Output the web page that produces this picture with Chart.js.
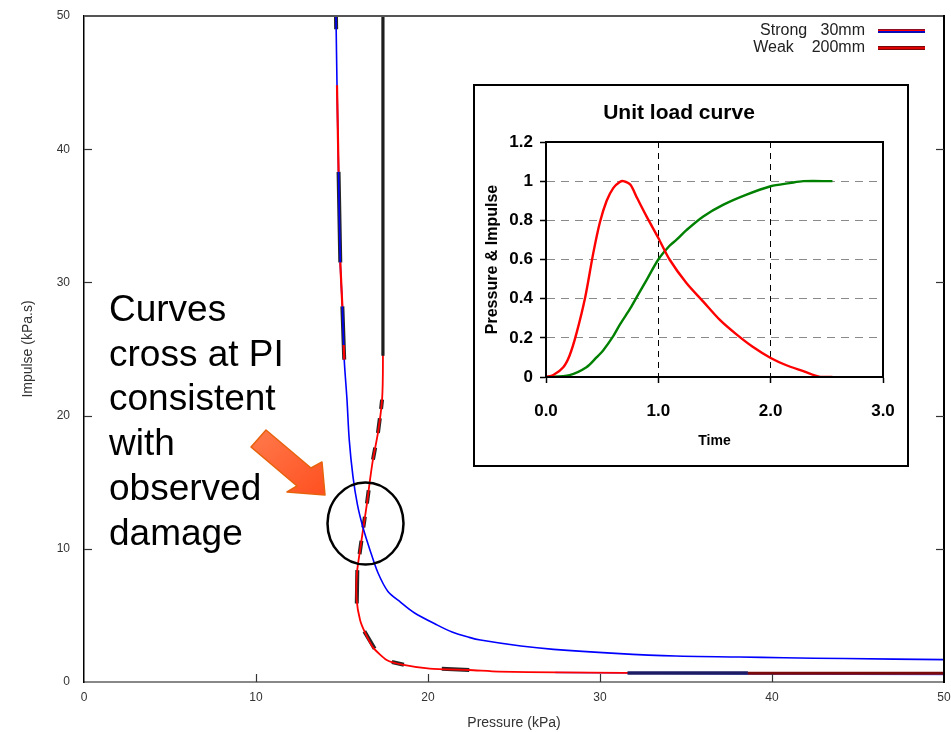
<!DOCTYPE html>
<html>
<head>
<meta charset="utf-8">
<script src="https://cdn.jsdelivr.net/npm/chart.js@4"></script>
<style>
html,body{margin:0;padding:0;background:#fff;}
#wrap{position:relative;width:951px;height:732px;overflow:hidden;background:#fff;}
#main{position:absolute;left:0;top:0;}
#marks{position:absolute;left:0;top:0;}
#insetBox{position:absolute;left:473px;top:84px;width:432px;height:379px;border:2px solid #000;background:#fff;}
#inset{position:absolute;left:0;top:0;}
#note{position:absolute;left:109px;top:287px;font-family:'Liberation Sans',Arial,sans-serif;font-size:37px;line-height:44.7px;color:#000;white-space:nowrap;}
</style>
</head>
<body>
<div id="wrap">
  <canvas id="main" width="951" height="732"></canvas>
  <svg id="marks" width="951" height="732">
    <defs>
      <linearGradient id="og" x1="0" y1="0" x2="1" y2="1">
        <stop offset="0" stop-color="#ff7a4c"/>
        <stop offset="1" stop-color="#ff5020"/>
      </linearGradient>
    </defs>
    <polygon points="266,430 311,468 322,462 325,495 287,492 297,486 251,447" fill="url(#og)" stroke="#e8620e" stroke-width="1.5" stroke-linejoin="round"/>
    <ellipse cx="365.5" cy="523.5" rx="38" ry="41" fill="none" stroke="#000" stroke-width="2.5"/>
  </svg>
  <div id="note">Curves<br>cross at PI<br>consistent<br>with<br>observed<br>damage</div>
  <div id="insetBox"><canvas id="inset" width="432" height="379"></canvas></div>
</div>
<script>
const FONT = "'Liberation Sans', Arial, Helvetica, sans-serif";

// ---- Main P-I diagram data ----
const seriesLabels = ['Strong   30mm', 'Weak    200mm'];

// Strong 30mm (blue)
const strongP = [14.65, 14.71, 14.8, 14.9, 15.02, 15.13, 15.29, 15.42, 15.64, 15.9, 16.22, 16.63, 17.09, 17.67, 18.4, 19.2, 20.5, 21.4, 22.4, 23.05, 25.4, 27.3, 30.9, 34.4, 38.1, 40.7, 44.2, 50];
const strongI = [50, 44.8, 38.3, 31.5, 28.2, 24.2, 21.2, 18.2, 15.4, 13.3, 11.6, 9.9, 8.2, 6.8, 6.0, 5.2, 4.3, 3.75, 3.35, 3.15, 2.7, 2.45, 2.15, 1.95, 1.88, 1.82, 1.76, 1.68];

// Weak 200mm (red)
const weakP = [17.38, 17.38, 17.33, 17.09, 16.8, 16.63, 16.45, 16.22, 16.05, 15.87, 15.85, 16.05, 16.34, 16.8, 17.6, 18.5, 20.1, 22.4, 24.1, 27.5, 31.4, 38.4, 50];
const weakI = [50, 24, 21.2, 18.7, 16.7, 15.2, 13.4, 11.4, 9.9, 8.2, 6.2, 4.65, 3.7, 2.6, 1.65, 1.3, 1.0, 0.9, 0.78, 0.72, 0.68, 0.67, 0.66];

// overlapping trace pieces seen in the picture (null = break)
const darkTopP = [17.38, 17.38];
const darkTopI = [50, 24.5];
const redLeftP = [14.71, 14.8, null, 14.9, 15.02, null, 15.1, 15.13];
const redLeftI = [44.8, 38.3, null, 31.5, 28.2, null, 25.3, 24.2];
const darkUnderP = [14.65, 14.66, null, 14.8, 14.9, null, 15.02, 15.13, null, 17.33, 17.27, null, 17.2, 17.09, null, 16.93, 16.8, null, 16.55, 16.45, null, 16.33, 16.24, null, 16.13, 16.02, null, 15.89, 15.86, null, 16.3, 16.9, null, 17.9, 18.6, null, 20.8, 22.4];
const darkUnderI = [50, 49, null, 38.3, 31.5, null, 28.2, 24.2, null, 21.2, 20.5, null, 19.8, 18.7, null, 17.6, 16.7, null, 14.4, 13.4, null, 12.4, 11.6, null, 10.6, 9.6, null, 8.4, 5.9, null, 3.8, 2.5, null, 1.5, 1.3, null, 1.0, 0.9];
const navyP = [31.6, 38.6];
const navyI = [0.67, 0.67];
const maroonP = [38.6, 50];
const maroonI = [0.66, 0.66];
const blueLowP = [27.4, 31.6, 38.6, 50];
const blueLowI = [0.72, 0.68, 0.6, 0.57];

// ---- Inset "Unit load curve" data ----
const pressureT = [0, 0.065, 0.154, 0.21, 0.27, 0.35, 0.42, 0.48, 0.54, 0.6, 0.66, 0.69, 0.75, 0.81, 0.895, 1.0, 1.1, 1.25, 1.4, 1.55, 1.69, 1.84, 2.0, 2.14, 2.29, 2.44, 2.55];
const pressureV = [0, 0.01, 0.05, 0.11, 0.22, 0.41, 0.63, 0.79, 0.9, 0.966, 0.997, 1.0, 0.983, 0.915, 0.82, 0.71, 0.6, 0.48, 0.385, 0.29, 0.22, 0.154, 0.097, 0.06, 0.03, 0.0, 0.0];
const impulseT = [0, 0.21, 0.36, 0.45, 0.51, 0.6, 0.66, 0.75, 0.81, 0.9, 1.0, 1.1, 1.16, 1.25, 1.4, 1.58, 1.78, 2.0, 2.17, 2.29, 2.55];
const impulseV = [0, 0.01, 0.05, 0.1, 0.137, 0.21, 0.27, 0.35, 0.41, 0.5, 0.6, 0.67, 0.7, 0.75, 0.82, 0.88, 0.93, 0.974, 0.99, 1.0, 1.0];

const xy = (xs, ys) => xs.map((x, i) => ({x: x, y: ys[i]}));
const line = (label, xs, ys, color, width, tension) => ({
  label: label, data: xy(xs, ys), showLine: true, borderColor: color, backgroundColor: color,
  borderWidth: width, pointRadius: 0, tension: tension || 0, fill: false, spanGaps: false
});
const zeroPad = s => { s.paddingLeft = 0; s.paddingRight = 0; s.paddingTop = 0; s.paddingBottom = 0; };

const mainFrame = {
  id: 'mainFrame',
  afterDraw(chart) {
    const {ctx, chartArea: {left, right, top, bottom}, scales: {x, y}} = chart;
    ctx.save();
    ctx.lineWidth = 2;
    ctx.strokeStyle = '#555';
    ctx.beginPath(); ctx.moveTo(left, top); ctx.lineTo(right, top); ctx.stroke();
    ctx.strokeStyle = '#000';
    ctx.beginPath(); ctx.moveTo(right, top - 1); ctx.lineTo(right, bottom + 1); ctx.stroke();
    ctx.lineWidth = 1.2;
    ctx.strokeStyle = '#333';
    x.ticks.forEach(t => {
      if (t.value <= x.min || t.value >= x.max) return;
      const px = Math.round(x.getPixelForValue(t.value)) + 0.5;
      ctx.beginPath(); ctx.moveTo(px, bottom); ctx.lineTo(px, bottom - 8); ctx.stroke();
    });
    y.ticks.forEach(t => {
      if (t.value <= y.min || t.value >= y.max) return;
      const py = Math.round(y.getPixelForValue(t.value)) + 0.5;
      ctx.beginPath(); ctx.moveTo(left, py); ctx.lineTo(left + 8, py); ctx.stroke();
      ctx.beginPath(); ctx.moveTo(right, py); ctx.lineTo(right - 8, py); ctx.stroke();
    });
    // key (legend) in the top-right corner of the plot
    ctx.font = '16px ' + FONT;
    ctx.fillStyle = '#222';
    ctx.textAlign = 'right';
    ctx.textBaseline = 'middle';
    const rows = [top + 15, top + 32];
    const x1 = right - 66, x2 = right - 19, tx = right - 79;
    ctx.fillText(seriesLabels[0], tx, rows[0]);
    ctx.fillText(seriesLabels[1], tx, rows[1]);
    ctx.lineCap = 'butt';
    ctx.strokeStyle = '#1c1c50'; ctx.lineWidth = 4;
    ctx.beginPath(); ctx.moveTo(x1, rows[0]); ctx.lineTo(x2, rows[0]); ctx.stroke();
    ctx.strokeStyle = '#ff0000'; ctx.lineWidth = 1.5;
    ctx.beginPath(); ctx.moveTo(x1, rows[0] - 0.8); ctx.lineTo(x2, rows[0] - 0.8); ctx.stroke();
    ctx.strokeStyle = '#0000ff'; ctx.lineWidth = 1.2;
    ctx.beginPath(); ctx.moveTo(x1, rows[0] + 0.8); ctx.lineTo(x2, rows[0] + 0.8); ctx.stroke();
    ctx.strokeStyle = '#7a0a0a'; ctx.lineWidth = 4;
    ctx.beginPath(); ctx.moveTo(x1, rows[1]); ctx.lineTo(x2, rows[1]); ctx.stroke();
    ctx.strokeStyle = '#ff0000'; ctx.lineWidth = 1.6;
    ctx.beginPath(); ctx.moveTo(x1, rows[1]); ctx.lineTo(x2, rows[1]); ctx.stroke();
    ctx.restore();
  }
};

new Chart(document.getElementById('main'), {
  type: 'scatter',
  data: {
    datasets: [
      line('darkTop', darkTopP, darkTopI, '#1e1e1e', 3.2),
      line('redLeft', redLeftP, redLeftI, '#ff0000', 2.2),
      line('maroon', maroonP, maroonI, '#7a0a0a', 3),
      line('navy', navyP, navyI, '#1c1c64', 3.5),
      line(seriesLabels[0], strongP, strongI, '#0000ff', 1.6, 0.3),
      line(seriesLabels[1], weakP, weakI, '#ff0000', 1.8, 0.2),
      line('darkUnder', darkUnderP, darkUnderI, '#262626', 4),
      line('blueLow', blueLowP, blueLowI, '#5a5aff', 1.5)
    ]
  },
  options: {
    responsive: false,
    animation: false,
    layout: {padding: {left: 0, right: 7, top: 16, bottom: 0}},
    plugins: {legend: {display: false}, tooltip: {enabled: false}, title: {display: false}},
    scales: {
      x: {
        type: 'linear', min: 0, max: 50,
        ticks: {stepSize: 10, padding: 8, color: '#333', font: {size: 12, family: FONT}},
        grid: {display: false, drawTicks: false},
        border: {display: true, color: '#888', width: 2},
        title: {display: true, text: 'Pressure (kPa)', color: '#333', font: {size: 14, family: FONT}, padding: {top: 0, bottom: 0}},
        afterFit: s => { s.height = 50; zeroPad(s); }
      },
      y: {
        type: 'linear', min: 0, max: 50,
        ticks: {stepSize: 10, padding: 14, color: '#333', font: {size: 12, family: FONT}},
        grid: {display: false, drawTicks: false},
        border: {display: true, color: '#000', width: 1.5},
        title: {display: true, text: 'Impulse (kPa.s)', color: '#333', font: {size: 14, family: FONT}, padding: {top: 20, bottom: 0}},
        afterFit: s => { s.width = 84; zeroPad(s); }
      }
    }
  },
  plugins: [mainFrame]
});

const insetFrame = {
  id: 'insetFrame',
  afterDraw(chart) {
    const {ctx, chartArea: {left, right, top, bottom}} = chart;
    ctx.save();
    ctx.strokeStyle = '#000';
    ctx.lineWidth = 2;
    ctx.strokeRect(left, top, right - left, bottom - top);
    ctx.restore();
  }
};

new Chart(document.getElementById('inset'), {
  type: 'scatter',
  data: {
    datasets: [
      line('Pressure', pressureT, pressureV, '#ff0000', 2.4, 0.3),
      line('Impulse', impulseT, impulseV, '#008000', 2.4, 0.3)
    ]
  },
  options: {
    responsive: false,
    animation: false,
    layout: {padding: {left: 0, right: 24, top: 0, bottom: 0}},
    plugins: {
      legend: {display: false}, tooltip: {enabled: false},
      title: {display: true, text: 'Unit load curve', color: '#000', font: {size: 21, weight: 'bold', family: FONT}, padding: {top: 14.4, bottom: 16.4}}
    },
    scales: {
      x: {
        type: 'linear', min: 0, max: 3,
        ticks: {stepSize: 1, padding: 18, color: '#000', font: {size: 17, weight: 'bold', family: FONT}, callback: v => Number(v).toFixed(1)},
        grid: {
          color: c => (c.tick && (c.tick.value === 1 || c.tick.value === 2)) ? '#000' : 'rgba(0,0,0,0)',
          lineWidth: 1, drawTicks: true, tickLength: 6, tickColor: '#000', tickWidth: 1.5, tickBorderDash: [], borderDash: [6, 5]
        },
        border: {display: true, color: '#000', width: 2, dash: [6, 5]},
        title: {display: true, text: 'Time', color: '#000', font: {size: 14, weight: 'bold', family: FONT}, padding: {top: 0, bottom: 15}},
        afterFit: s => { s.height = 88; zeroPad(s); }
      },
      y: {
        type: 'linear', min: 0, max: 1.2,
        ticks: {stepSize: 0.2, padding: 7, color: '#000', font: {size: 17, weight: 'bold', family: FONT}, callback: v => String(Number(Number(v).toFixed(1)))},
        grid: {
          color: c => (c.tick && c.tick.value > 0.05 && c.tick.value < 1.15) ? '#8a8a8a' : 'rgba(0,0,0,0)',
          lineWidth: 1, drawTicks: true, tickLength: 6, tickColor: '#000', tickWidth: 1.5, tickBorderDash: [], borderDash: [8, 6]
        },
        border: {display: true, color: '#000', width: 2, dash: [8, 6]},
        title: {display: true, text: 'Pressure & Impulse', color: '#000', font: {size: 16, weight: 'bold', family: FONT}, padding: {top: 8.4, bottom: 0}},
        afterFit: s => { s.width = 71; zeroPad(s); }
      }
    }
  },
  plugins: [insetFrame]
});
</script>
</body>
</html>
